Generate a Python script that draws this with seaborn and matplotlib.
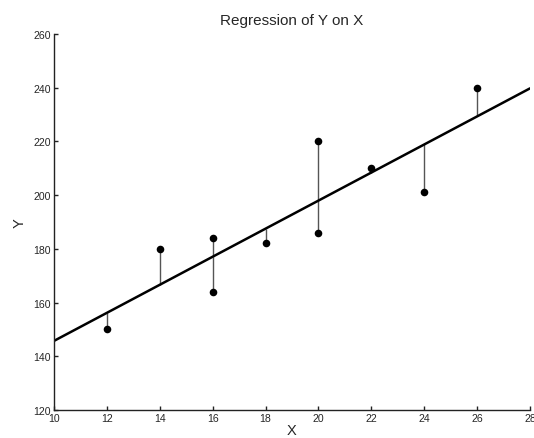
import numpy as np
import pandas as pd
import matplotlib
matplotlib.use("Agg")
import matplotlib.pyplot as plt
import seaborn as sns

x_vals = [12, 14, 16, 16, 18, 20, 20, 22, 24, 26]
y_vals = [150, 180, 184, 164, 182, 220, 186, 210, 201, 240]
x_ticks = [10, 12, 14, 16, 18, 20, 22, 24, 26, 28]
y_ticks = [120, 140, 160, 180, 200, 220, 240, 260]

df = pd.DataFrame({"X": x_vals, "Y": y_vals})

sns.set_style("ticks")
plt.rcParams["font.family"] = ["Liberation Sans", "DejaVu Sans"]

fig = plt.figure(figsize=(5.34, 4.39), dpi=100)
ax = fig.add_axes([0.101, 0.064, 0.8915, 0.856])
ax.set_xlim(10, 28)
ax.set_ylim(120, 260)

slope, intercept = np.polyfit(df["X"], df["Y"], 1)
fitted = slope * df["X"] + intercept
ax.vlines(df["X"], df["Y"], fitted, color="#555555", linewidth=1.0, zorder=1)

sns.regplot(data=df, x="X", y="Y", ax=ax, ci=None, truncate=False,
            scatter_kws=dict(color="black", s=30, zorder=3, linewidths=0, alpha=1),
            line_kws=dict(color="black", linewidth=1.8, zorder=2))
ax.set_xlim(10, 28)
ax.set_ylim(120, 260)
ax.set_xticks(x_ticks)
ax.set_yticks(y_ticks)
ax.tick_params(labelsize=7.6, length=3, width=1, color="#222222", direction="in", pad=2)
ax.tick_params(axis="x", pad=2)
for s in ["left", "bottom"]:
    ax.spines[s].set_linewidth(1.0)
    ax.spines[s].set_color("#222222")
sns.despine(ax=ax)
ax.set_xlabel("X", fontsize=10.5, labelpad=0)
ax.set_ylabel("Y", fontsize=10.5, labelpad=5)
ax.set_title("Regression of Y on X", fontsize=11, pad=7)

fig.savefig("out.png", dpi=100)
